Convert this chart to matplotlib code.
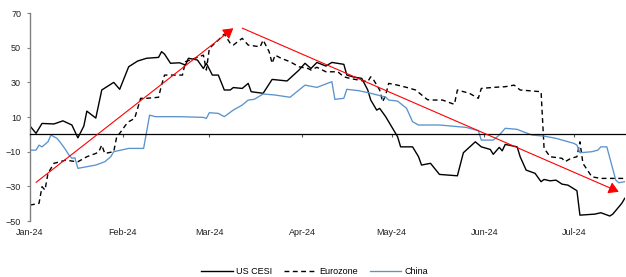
import numpy as np
import pandas as pd
import matplotlib
matplotlib.use( 'Agg' )
import matplotlib.pyplot as plt
import matplotlib.dates as mdates

plt.rcParams[ 'font.family' ] = [ 'Liberation Sans', 'DejaVu Sans' ]

start = pd.Timestamp( '2024-01-01' )

# days since 1 Jan 2024
us_days = [ 0, 2, 4, 8, 11, 14, 16, 18, 19, 22, 24, 28, 30, 33, 36, 39, 43, 44, 45, 47, 50, 52, 53, 56, 58, 59,
            61, 63, 65, 67, 68, 71, 73, 74, 78, 81, 86, 90, 92, 94, 96, 99, 101, 105, 106, 108, 111, 113, 114,
            116, 117, 119, 122, 123, 124, 128, 130, 131, 134, 137, 143, 145, 149, 151, 154, 155, 157, 158, 159,
            163, 164, 166, 169, 171, 172, 174, 176, 178, 180, 183, 184, 189, 191, 194, 195, 198, 199 ]
us_cesi = [ 4.8, 0.6, 6.3, 6, 7.8, 5.4, -2, 4.8, 13.4, 9.4, 25.6, 30, 26, 39, 42.3, 43.9, 44.4, 47.7, 46.3, 41,
            41.3, 40, 43.9, 42.9, 38, 41, 34.2, 34.2, 25.6, 25.6, 27, 26.5, 29.4, 24.6, 23.7, 31.7, 30.8, 37.1,
            41, 38, 41.5, 39.4, 41.5, 40.4, 34.2, 33.2, 32.3, 25.6, 19.8, 14, 15, 10.2, 1.5, -1.4, -7.2, -7.2,
            -12.9, -17.7, -16.7, -23.1, -23.9, -10.6, -4.3, -7.2, -8.7, -11.5, -7.5, -9.5, -5.8, -7.2, -12.9,
            -20.6, -22.5, -27.3, -26, -26.8, -26.4, -28.7, -29.3, -32.5, -46.6, -46, -45.2, -47.1, -46, -39.8,
            -36.9 ]

ez_days = [ 0, 3, 4, 5, 6, 8, 10, 12, 14, 16, 19, 22, 23, 24, 25, 28, 29, 30, 32, 33, 35, 37, 39, 43, 44, 45,
            51, 52, 58, 59, 60, 63, 65, 67, 68, 71, 73, 77, 78, 80, 81, 82, 84, 87, 90, 93, 94, 96, 99, 103, 105,
            107, 110, 113, 114, 115, 117, 118, 119, 120, 123, 126, 129, 133, 135, 138, 142, 143, 147, 150, 151,
            155, 159, 162, 164, 171, 172, 174, 178, 179, 181, 183, 184, 185, 188, 191, 199 ]
eurozone = [ -40.8, -39.8, -30.2, -32.1, -22.5, -16.7, -15.8, -14.8, -15.4, -15.8, -12.9, -11, -10, -6.2, -11,
             -10, -1.4, 0.6, 5.4, 7.3, 9.2, 20.8, 20.8, 21.4, 28.4, 34.2, 34.2, 41.9, 45.7, 37.1, 49.6, 54.4,
             57.9, 52.5, 51.5, 55.4, 51.5, 50.5, 54.4, 47.7, 41, 45.7, 43.9, 41.9, 39, 38, 37.1, 38.7, 36.1,
             36.1, 33.2, 32.3, 31.3, 30.4, 33.2, 31.3, 25.6, 18.8, 22.7, 29.4, 28.4, 27.1, 25.6, 20, 19.8, 19.8,
             17.3, 25.6, 23.7, 20.8, 26.5, 27.1, 27.5, 28.4, 25.6, 24.6, -8, -12.9, -13.8, -15.8, -13.8, -12.9,
             -4.3, -16.7, -24.5, -25.4, -25.4 ]

cn_days = [ 0, 2, 3, 4, 6, 7, 9, 10, 12, 13, 14, 15, 16, 22, 25, 27, 28, 33, 38, 40, 42, 50, 58, 59, 60, 63, 65,
            68, 71, 73, 75, 78, 82, 87, 92, 96, 101, 102, 105, 106, 110, 114, 119, 120, 123, 126, 128, 130, 137,
            141, 146, 150, 151, 155, 157, 159, 163, 165, 168, 172, 176, 182, 183, 184, 188, 190, 191, 193, 196,
            197, 199 ]
china = [ -9.1, -9.1, -6.2, -7.2, -4.3, -0.4, -2.3, -4.3, -9.1, -11.9, -13.8, -13.5, -19.6, -17.7, -15.8, -12.9,
          -10, -8.1, -8.1, 11.1, 10.2, 10.2, 9.8, 9.2, 12.5, 12.1, 10.2, 14, 16.9, 19.8, 20.2, 23.3, 22.7, 21.4,
          28.4, 27.1, 30.4, 20.2, 20.8, 26, 25.2, 23.7, 21.5, 19.8, 19.2, 15, 7.3, 5.4, 5.4, 4.8, 4, 2.1, -3.3,
          -3.3, -0.4, 3.5, 2.9, 1.5, -0.4, -1, -2.3, -5.2, -6.2, -10.6, -10, -9.1, -7.2, -7.2, -26.4, -27.9,
          -27.3 ]

# trend arrows ( day, value ) start -> end
arrow_up = [ ( 2, -27.7 ), ( 68, 61.2 ) ]
arrow_down = [ ( 71, 61.3 ), ( 197, -33.1 ) ]

def to_dates( days ) :
    return start + pd.to_timedelta( days, unit = 'D' )

fig = plt.figure( figsize = ( 6.26, 2.77 ), dpi = 100 )
ax = fig.add_axes( [ 0.048, 0.202, 0.950, 0.751 ] )

ax.plot( to_dates( us_days ), us_cesi, color = 'black', lw = 1.0, label = 'US CESI' )
ax.plot( to_dates( ez_days ), eurozone, color = 'black', lw = 1.0, dashes = ( 3.5, 2.5 ), label = 'Eurozone' )
ax.plot( to_dates( cn_days ), china, color = '#5b93cc', lw = 0.95, label = 'China' )

for arr in [ arrow_up, arrow_down ] :
    ( d0, v0 ), ( d1, v1 ) = arr
    ax.annotate( '', xy = ( mdates.date2num( to_dates( [ d1 ] )[ 0 ] ), v1 ),
                 xytext = ( mdates.date2num( to_dates( [ d0 ] )[ 0 ] ), v0 ),
                 arrowprops = dict( arrowstyle = '-|>,head_length=0.5,head_width=0.3', color = 'red', lw = 0.8,
                                    mutation_scale = 12, shrinkA = 0, shrinkB = 0 ) )

ax.set_ylim( -50, 70 )
ax.set_yticks( np.arange( -50, 71, 20 ) )
ax.set_xlim( to_dates( [ 0 ] )[ 0 ], to_dates( [ 199 ] )[ 0 ] )
ax.xaxis.set_major_locator( mdates.MonthLocator() )
ax.xaxis.set_major_formatter( mdates.DateFormatter( '%b-%y' ) )

ax.spines[ 'top' ].set_visible( False )
ax.spines[ 'right' ].set_visible( False )
ax.spines[ 'bottom' ].set_position( ( 'data', 0 ) )
ax.spines[ 'bottom' ].set_linewidth( 0.9 )
ax.spines[ 'left' ].set_color( '#808080' )
ax.spines[ 'left' ].set_linewidth( 1.0 )

ax.tick_params( axis = 'y', length = 2.5, width = 0.8, color = '#808080', pad = 4,
                labelsize = 6.5, labelcolor = '#222222' )
ax.tick_params( axis = 'x', length = 2.5, width = 0.8, color = '#555555', pad = 65,
                labelsize = 6.5, labelcolor = '#222222' )

fig.legend( loc = 'lower center', bbox_to_anchor = ( 0.503, -0.025 ), ncol = 3, frameon = False,
            fontsize = 6.5, handlelength = 3.5, columnspacing = 1.3, handletextpad = 0.4 )

fig.savefig( 'out.png', dpi = 100 )
